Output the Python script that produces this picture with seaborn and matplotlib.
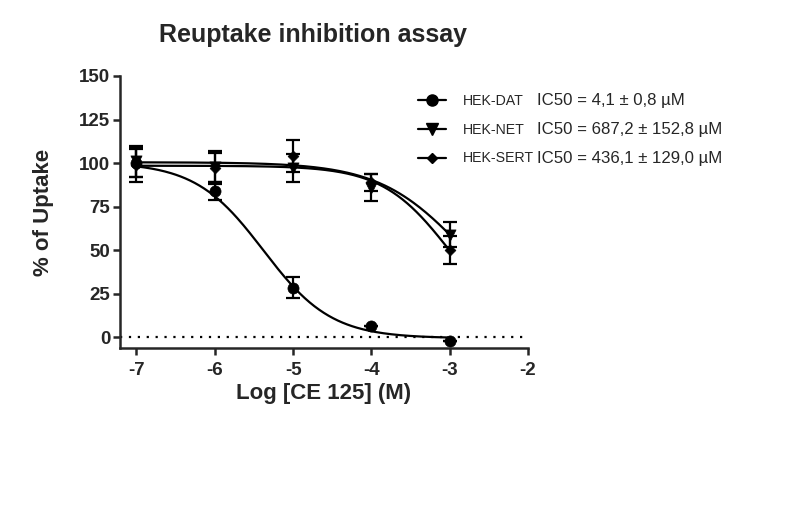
import numpy as np
import matplotlib
matplotlib.use("Agg")
import matplotlib.pyplot as plt
import seaborn as sns
import pandas as pd

# log concentration of CE 125 (M)
log_conc = [-7, -6, -5, -4, -3]

# mean % uptake and error
dat_mean = [100, 84, 28.5, 6.5, -2]
dat_err = [8, 5, 6, 0, 0]
net_mean = [101, 98, 97, 86, 59]
net_err = [9, 9, 8, 8, 7]
sert_mean = [99, 97, 104, 89, 50]
sert_err = [10, 9, 9, 5, 8]

# fitted curve parameters (top, bottom, logIC50, hill slope)
dat_fit = (100.5, -0.5, -5.38, 1.0)
net_fit = (100.5, 0, -2.81, 0.8)
sert_fit = (98.5, 0, -2.99, 1.0)

names = ["HEK-DAT", "HEK-NET", "HEK-SERT"]
ic50_text = ["IC50 = 4,1 \u00b1 0,8 \u00b5M",
             "IC50 = 687,2 \u00b1 152,8 \u00b5M",
             "IC50 = 436,1 \u00b1 129,0 \u00b5M"]
markers = ["o", "v", "D"]
msizes = [8, 8, 5.5]

sns.set_style("ticks")
plt.rcParams["font.family"] = ["Liberation Sans", "DejaVu Sans"]
plt.rcParams["axes.unicode_minus"] = False

df = pd.DataFrame({
    "logc": log_conc * 3,
    "uptake": dat_mean + net_mean + sert_mean,
    "err": dat_err + net_err + sert_err,
    "line": [n for n in names for _ in log_conc],
})

fig = plt.figure(figsize=(7.87, 5.25), dpi=100)
ax = fig.add_axes([120 / 787, 1 - 348 / 525, 408 / 787, 272 / 525])

xs = np.linspace(-7, -3, 200)
handles = []
for name, fit, m, ms in zip(names, [dat_fit, net_fit, sert_fit], markers, msizes):
    top, bottom, logic50, hill = fit
    curve = bottom + (top - bottom) / (1 + 10 ** ((xs - logic50) * hill))
    sns.lineplot(x=xs, y=curve, ax=ax, color="black", lw=1.6)
    sub = df[df["line"] == name]
    ax.errorbar(sub["logc"], sub["uptake"], yerr=sub["err"], fmt="none",
                ecolor="black", elinewidth=1.6, capsize=5, capthick=1.6, zorder=3)
    sns.scatterplot(x=sub["logc"], y=sub["uptake"], ax=ax, marker=m,
                    s=ms ** 2, color="black", edgecolor="black",
                    linewidth=0.5, zorder=4, legend=False)
    h, = ax.plot([], [], color="black", lw=1.6, marker=m, markersize=ms)
    handles.append(h)

ax.axhline(0, color="black", lw=1.6, ls=(0, (1, 3)), zorder=1)

ax.set_xlim(-7.21, -2)
ax.set_ylim(-6.1, 150)
ax.set_xticks([-7, -6, -5, -4, -3, -2])
ax.set_yticks([0, 25, 50, 75, 100, 125, 150])
for s in ["left", "bottom"]:
    ax.spines[s].set_linewidth(1.8)
sns.despine(ax=ax)
ax.tick_params(width=1.8, length=5, labelsize=13.5)
ax.tick_params(axis="x", pad=5)
ax.tick_params(axis="y", pad=2)
for lab in ax.get_xticklabels() + ax.get_yticklabels():
    lab.set_fontweight("bold")
ax.set_xlabel("Log [CE 125] (M)", fontsize=16, fontweight="bold", labelpad=3)
ax.set_ylabel("% of Uptake", fontsize=16, fontweight="bold", labelpad=18)

fig.text(313 / 787, 1 - 35 / 525, "Reuptake inhibition assay", ha="center",
         va="center", fontsize=18, fontweight="bold")

leg = ax.legend(handles, names, loc="upper left",
                bbox_to_anchor=(405 / 787, 1 - 81 / 525),
                bbox_transform=fig.transFigure, frameon=False,
                handlelength=2.0, handletextpad=1.2, labelspacing=1.05,
                prop={"size": 10.2})

fig.canvas.draw()
r = fig.canvas.get_renderer()
right = max(t.get_window_extent(r).x1 for t in leg.get_texts())
for t, txt in zip(leg.get_texts(), ic50_text):
    bb = t.get_window_extent(r)
    ymid = (bb.y0 + bb.y1) / 2
    fig.text((right + 3) / fig.bbox.width, ymid / fig.bbox.height, txt,
             ha="left", va="center", fontsize=12.1)

fig.savefig("out.png", dpi=100)
